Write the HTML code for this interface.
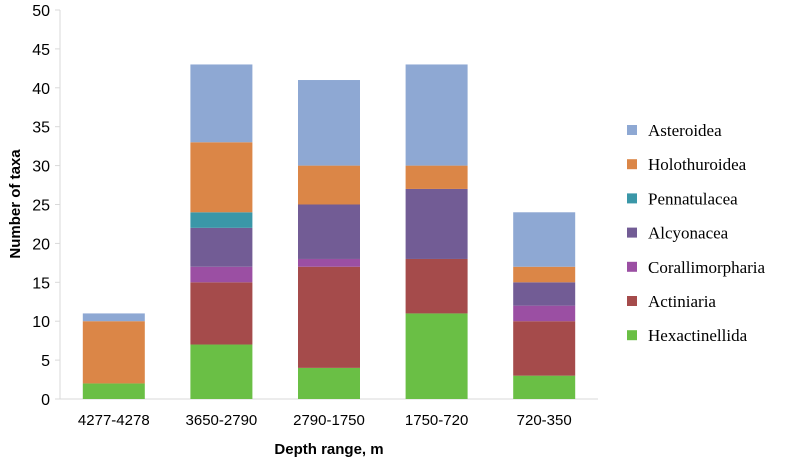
<!DOCTYPE html>
<html><head><meta charset="utf-8"><style>
body{margin:0;background:#fff;}
svg{display:block;font-family:"Liberation Sans",sans-serif;}
</style></head><body>
<svg id="c" width="800" height="461"></svg>
<script>
const categories=["4277-4278","3650-2790","2790-1750","1750-720","720-350"];
const seriesNames=["Hexactinellida","Actiniaria","Corallimorpharia","Alcyonacea","Pennatulacea","Holothuroidea","Asteroidea"];
const hexactinellida=[2,7,4,11,3];
const actiniaria=[0,8,13,7,7];
const corallimorpharia=[0,2,1,0,2];
const alcyonacea=[0,5,7,9,3];
const pennatulacea=[0,2,0,0,0];
const holothuroidea=[8,9,5,3,2];
const asteroidea=[1,10,11,13,7];
const yTicks=[0,5,10,15,20,25,30,35,40,45,50];
const series=[hexactinellida,actiniaria,corallimorpharia,alcyonacea,pennatulacea,holothuroidea,asteroidea];
const colors=["#6abf45","#a54b4b","#9b4fa3","#725c95","#3a97a8","#db8647","#8ea8d3"];
const svg=document.getElementById('c');
const NS="http://www.w3.org/2000/svg";
const X0=60,X1=598,Y0=399,Y1=10,YMAX=50;
const band=(X1-X0)/categories.length,bw=62;
const y=v=>Y0-(v/YMAX)*(Y0-Y1);
const xc=i=>X0+band*(i+0.5);
function mk(t,a,p){const e=document.createElementNS(NS,t);for(const k in a)e.setAttribute(k,a[k]);(p||svg).appendChild(e);return e;}
// axes
let ax=mk('line',{x1:X0,y1:Y1,x2:X0,y2:Y0,stroke:'#d9d9d9'});


let bx=mk('line',{x1:X0,y1:Y0,x2:X1,y2:Y0,stroke:'#d9d9d9'});


yTicks.forEach(v=>{
 let tk=mk('line',{x1:X0-5,y1:y(v),x2:X0,y2:y(v),stroke:'#d9d9d9'});
 
 
 let t=mk('text',{x:X0-10,y:y(v)+6,'text-anchor':'end','font-size':16,fill:'#000'});
 t.textContent=v;
 
 
});
categories.forEach((c,i)=>{
 let base=0;
 series.forEach((s,k)=>{
  const v=s[i];
  if(v>0){
   let r=mk('rect',{x:xc(i)-bw/2,y:y(base+v),width:bw,height:y(base)-y(base+v),fill:colors[k]});
   
   
  }
  base+=v;
 });
 let t=mk('text',{x:xc(i),y:425,'text-anchor':'middle','font-size':15,fill:'#000'});
 t.textContent=c;
 
 
});
let xt=mk('text',{x:329,y:454,'text-anchor':'middle','font-size':15,'font-weight':'bold'});
xt.textContent="Depth range, m";


let yt=mk('text',{x:0,y:0,'text-anchor':'middle','font-size':15,'font-weight':'bold',transform:'translate(20,204) rotate(-90)'});
yt.textContent="Number of taxa";


for(let k=series.length-1,j=0;k>=0;k--,j++){
 const ly=130+j*34.2;
 let g=mk('g',{});
 
 
 let sw=mk('rect',{x:627,y:ly-5,width:10,height:10,fill:colors[k]},g);
 
 
 let t=mk('text',{x:648,y:ly+6,'font-size':17,'font-family':'Liberation Serif, serif'},g);
 t.textContent=seriesNames[k];
 
 
}
</script>
</body></html>
